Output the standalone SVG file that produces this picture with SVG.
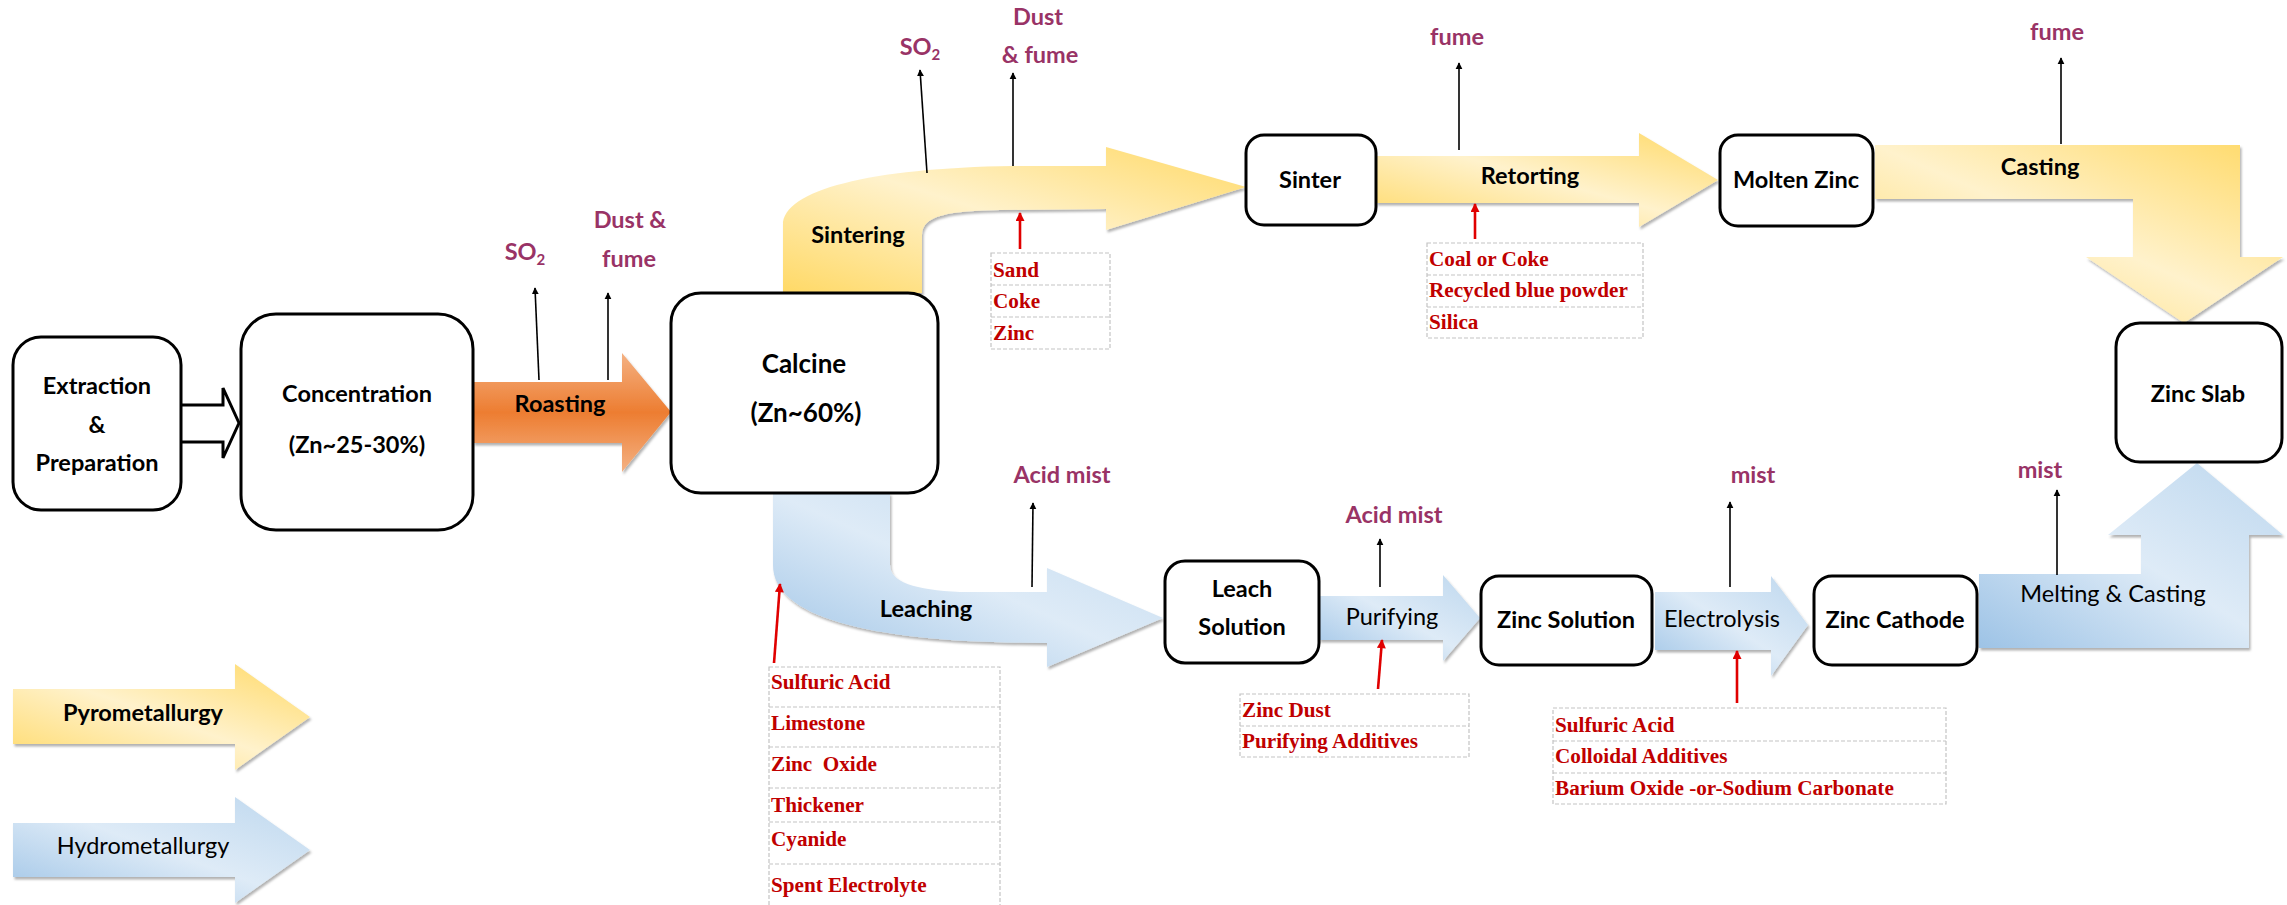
<svg xmlns="http://www.w3.org/2000/svg" width="2287" height="905" viewBox="0 0 2287 905">
<defs>
<style>
.box{fill:#fff;stroke:#000;stroke-width:3;}
.t{font-family:Lato,"Open Sans","Liberation Sans",sans-serif;font-size:23.5px;font-weight:700;fill:#000;text-anchor:middle;}
.big{font-size:26px;}
.r{font-weight:400;}
.em{fill:#993366;}
.in{font-family:"Liberation Serif",serif;font-size:21.2px;font-weight:700;fill:#c00000;white-space:pre;}
.tbl{fill:none;stroke:#c4c4c4;stroke-width:1.2;stroke-dasharray:4 2;}
.emis{stroke:#000;stroke-width:1.6;fill:none;marker-end:url(#ah);}
.feed{stroke:#e00000;stroke-width:2.6;fill:none;marker-end:url(#rh);}
.pyro{fill:url(#gy);filter:url(#sh);}
.hydro{fill:url(#gb);filter:url(#sh);}
</style>
<linearGradient id="gy" x1="0" y1="1" x2="1" y2="0">
<stop offset="0" stop-color="#ffd966"/><stop offset="0.5" stop-color="#fff2cc"/><stop offset="1" stop-color="#ffd966"/>
</linearGradient>
<linearGradient id="gb" x1="0" y1="1" x2="1" y2="0">
<stop offset="0" stop-color="#9dc3e6"/><stop offset="0.5" stop-color="#deebf7"/><stop offset="1" stop-color="#bdd7ee"/>
</linearGradient>
<linearGradient id="go" x1="0" y1="0" x2="0" y2="1">
<stop offset="0" stop-color="#f4b183"/><stop offset="0.5" stop-color="#ed7d31"/><stop offset="1" stop-color="#f4b183"/>
</linearGradient>
<filter id="sh" x="-10%" y="-10%" width="120%" height="130%">
<feDropShadow dx="1.5" dy="2.5" stdDeviation="1" flood-color="#000" flood-opacity="0.3"/>
</filter>
<marker id="ah" viewBox="0 0 10 10" refX="9" refY="5" markerWidth="7" markerHeight="8" markerUnits="userSpaceOnUse" orient="auto">
<path d="M0,0 L10,5 L0,10 z" fill="#000"/>
</marker>
<marker id="rh" viewBox="0 0 10 10" refX="9" refY="5" markerWidth="10" markerHeight="9" markerUnits="userSpaceOnUse" orient="auto">
<path d="M0,0 L10,5 L0,10 z" fill="#e00000"/>
</marker>
</defs>
<rect width="2287" height="905" fill="#fff"/>

<g id="connectors">
<g id="arrow-prep">
<path d="M181 405 L223 405 L223 388 L239 423 L223 458 L223 442 L181 442" fill="#fff" stroke="#000" stroke-width="3" stroke-linejoin="miter"/>
</g>
<g id="arrow-roasting">
<path d="M473 382 L622 382 L622 353 L671 412 L622 472 L622 443 L473 443 Z" fill="url(#go)" filter="url(#sh)"/>
<text class="t" x="560" y="412">Roasting</text>
</g>
<g id="arrow-sintering">
<path class="pyro" d="M783 293 L783 225 C783 190 870 168 1013 166 L1106 166 L1106 147 L1246 187 L1106 230 L1106 209 L1000 210 C950 211 922 215 922 235 L922 293 Z"/>
<text class="t" x="858" y="243">Sintering</text>
</g>
<g id="arrow-retorting">
<path class="pyro" d="M1376 156 L1639 156 L1639 133 L1718 180 L1639 227 L1639 203 L1376 203 Z"/>
<text class="t" x="1530" y="184">Retorting</text>
</g>
<g id="arrow-casting">
<path class="pyro" d="M1875 145 L2240 145 L2240 257 L2283 257 L2184 323 L2086 257 L2133 257 L2133 199 L1875 199 Z"/>
<text class="t" x="2040" y="175">Casting</text>
</g>
<g id="arrow-leaching">
<path class="hydro" d="M773 493 L773 565 C773 620 880 643 1047 643 L1047 667 L1163 618 L1047 568 L1047 592 L960 592 C915 590 890 582 890 565 L890 493 Z"/>
<text class="t" x="926" y="617">Leaching</text>
</g>
<g id="arrow-purifying">
<path class="hydro" d="M1319 596 L1443 596 L1443 575 L1480 618 L1443 661 L1443 640 L1319 640 Z"/>
<text class="t r" x="1392" y="625">Purifying</text>
</g>
<g id="arrow-electrolysis">
<path class="hydro" d="M1655 592 L1771 592 L1771 576 L1808 625 L1771 676 L1771 650 L1655 650 Z"/>
<text class="t r" x="1722" y="627">Electrolysis</text>
</g>
<g id="arrow-melting">
<path class="hydro" d="M1979 574 L2141 574 L2141 535 L2108 535 L2197 463 L2283 535 L2249 535 L2249 648 L1979 648 Z"/>
<text class="t r" x="2113" y="602">Melting &amp; Casting</text>
</g>

<g id="emissions">
<line class="emis" x1="539" y1="380" x2="535" y2="288"/>
<line class="emis" x1="608" y1="380" x2="608" y2="293"/>
<line class="emis" x1="927" y1="173" x2="920" y2="70"/>
<line class="emis" x1="1013" y1="166" x2="1013" y2="73"/>
<line class="emis" x1="1459" y1="150" x2="1459" y2="63"/>
<line class="emis" x1="2061" y1="144" x2="2061" y2="58"/>
<line class="emis" x1="1032" y1="587" x2="1033" y2="503"/>
<line class="emis" x1="1380" y1="587" x2="1380" y2="539"/>
<line class="emis" x1="1730" y1="587" x2="1730" y2="502"/>
<line class="emis" x1="2057" y1="575" x2="2057" y2="490"/>
</g>
<g id="feeds">
<line class="feed" x1="1020" y1="249" x2="1020" y2="213"/>
<line class="feed" x1="1475" y1="239" x2="1475" y2="204"/>
<line class="feed" x1="774" y1="663" x2="780" y2="584"/>
<line class="feed" x1="1378" y1="689" x2="1382" y2="640"/>
<line class="feed" x1="1737" y1="703" x2="1737" y2="651"/>
</g>
</g>

<g id="emission-labels">
<text class="t em" x="525" y="260">SO<tspan font-size="15" dy="5">2</tspan></text>
<text class="t em" x="630" y="228">Dust &amp;</text>
<text class="t em" x="629" y="267">fume</text>
<text class="t em" x="920" y="55">SO<tspan font-size="15" dy="5">2</tspan></text>
<text class="t em" x="1038" y="25">Dust</text>
<text class="t em" x="1040" y="63">&amp; fume</text>
<text class="t em" x="1457" y="45">fume</text>
<text class="t em" x="2057" y="40">fume</text>
<text class="t em" x="1062" y="483">Acid mist</text>
<text class="t em" x="1394" y="523">Acid mist</text>
<text class="t em" x="1753" y="483">mist</text>
<text class="t em" x="2040" y="478">mist</text>
</g>

<g id="node-extraction">
<rect class="box" x="13" y="337" width="168" height="173" rx="28"/>
<text class="t" x="97" y="394">Extraction</text>
<text class="t" x="97" y="433">&amp;</text>
<text class="t" x="97" y="471">Preparation</text>
</g>
<g id="node-concentration">
<rect class="box" x="241" y="314" width="232" height="216" rx="35"/>
<text class="t" x="357" y="402">Concentration</text>
<text class="t" x="357" y="453">(Zn~25-30%)</text>
</g>
<g id="node-calcine">
<rect class="box" x="671" y="293" width="267" height="200" rx="30"/>
<text class="t big" x="804" y="373">Calcine</text>
<text class="t big" x="806" y="422">(Zn~60%)</text>
</g>
<g id="node-sinter">
<rect class="box" x="1246" y="135" width="130" height="90" rx="18"/>
<text class="t" x="1310" y="188">Sinter</text>
</g>
<g id="node-molten-zinc">
<rect class="box" x="1720" y="135" width="153" height="91" rx="18"/>
<text class="t" x="1796" y="188">Molten Zinc</text>
</g>
<g id="node-zinc-slab">
<rect class="box" x="2116" y="323" width="166" height="139" rx="24"/>
<text class="t" x="2198" y="402">Zinc Slab</text>
</g>
<g id="node-leach-solution">
<rect class="box" x="1165" y="561" width="154" height="102" rx="20"/>
<text class="t" x="1242" y="597">Leach</text>
<text class="t" x="1242" y="635">Solution</text>
</g>
<g id="node-zinc-solution">
<rect class="box" x="1481" y="576" width="171" height="89" rx="18"/>
<text class="t" x="1566" y="628">Zinc Solution</text>
</g>
<g id="node-zinc-cathode">
<rect class="box" x="1814" y="576" width="163" height="89" rx="18"/>
<text class="t" x="1895" y="628">Zinc Cathode</text>
</g>

<g id="inputs-sintering">
<rect class="tbl" x="991" y="253" width="119" height="96"/>
<line class="tbl" x1="991" y1="285" x2="1110" y2="285"/>
<line class="tbl" x1="991" y1="317" x2="1110" y2="317"/>
<text class="in" x="993" y="277">Sand</text>
<text class="in" x="993" y="308">Coke</text>
<text class="in" x="993" y="340">Zinc</text>
</g>
<g id="inputs-retorting">
<rect class="tbl" x="1427" y="243" width="216" height="95"/>
<line class="tbl" x1="1427" y1="275" x2="1643" y2="275"/>
<line class="tbl" x1="1427" y1="307" x2="1643" y2="307"/>
<text class="in" x="1429" y="266">Coal or Coke</text>
<text class="in" x="1429" y="297">Recycled blue powder</text>
<text class="in" x="1429" y="329">Silica</text>
</g>
<g id="inputs-leaching">
<rect class="tbl" x="769" y="667" width="231" height="245"/>
<line class="tbl" x1="769" y1="707" x2="1000" y2="707"/>
<line class="tbl" x1="769" y1="747" x2="1000" y2="747"/>
<line class="tbl" x1="769" y1="788" x2="1000" y2="788"/>
<line class="tbl" x1="769" y1="822" x2="1000" y2="822"/>
<line class="tbl" x1="769" y1="864" x2="1000" y2="864"/>
<text class="in" x="771" y="689">Sulfuric Acid</text>
<text class="in" x="771" y="730">Limestone</text>
<text class="in" x="771" y="771">Zinc  Oxide</text>
<text class="in" x="771" y="812">Thickener</text>
<text class="in" x="771" y="846">Cyanide</text>
<text class="in" x="771" y="892">Spent Electrolyte</text>
</g>
<g id="inputs-purifying">
<rect class="tbl" x="1240" y="694" width="229" height="63"/>
<line class="tbl" x1="1240" y1="726" x2="1469" y2="726"/>
<text class="in" x="1242" y="717">Zinc Dust</text>
<text class="in" x="1242" y="748">Purifying Additives</text>
</g>
<g id="inputs-electrolysis">
<rect class="tbl" x="1553" y="708" width="393" height="96"/>
<line class="tbl" x1="1553" y1="741" x2="1946" y2="741"/>
<line class="tbl" x1="1553" y1="773" x2="1946" y2="773"/>
<text class="in" x="1555" y="732">Sulfuric Acid</text>
<text class="in" x="1555" y="763">Colloidal Additives</text>
<text class="in" x="1555" y="795">Barium Oxide -or-Sodium Carbonate</text>
</g>

<g id="legend-pyro">
<path class="pyro" d="M13 689 L235 689 L235 664 L310 717 L235 770 L235 744 L13 744 Z"/>
<text class="t" x="143" y="721">Pyrometallurgy</text>
</g>
<g id="legend-hydro">
<path class="hydro" d="M13 823 L235 823 L235 797 L310 850 L235 903 L235 877 L13 877 Z"/>
<text class="t r" x="143" y="854">Hydrometallurgy</text>
</g>
</svg>
